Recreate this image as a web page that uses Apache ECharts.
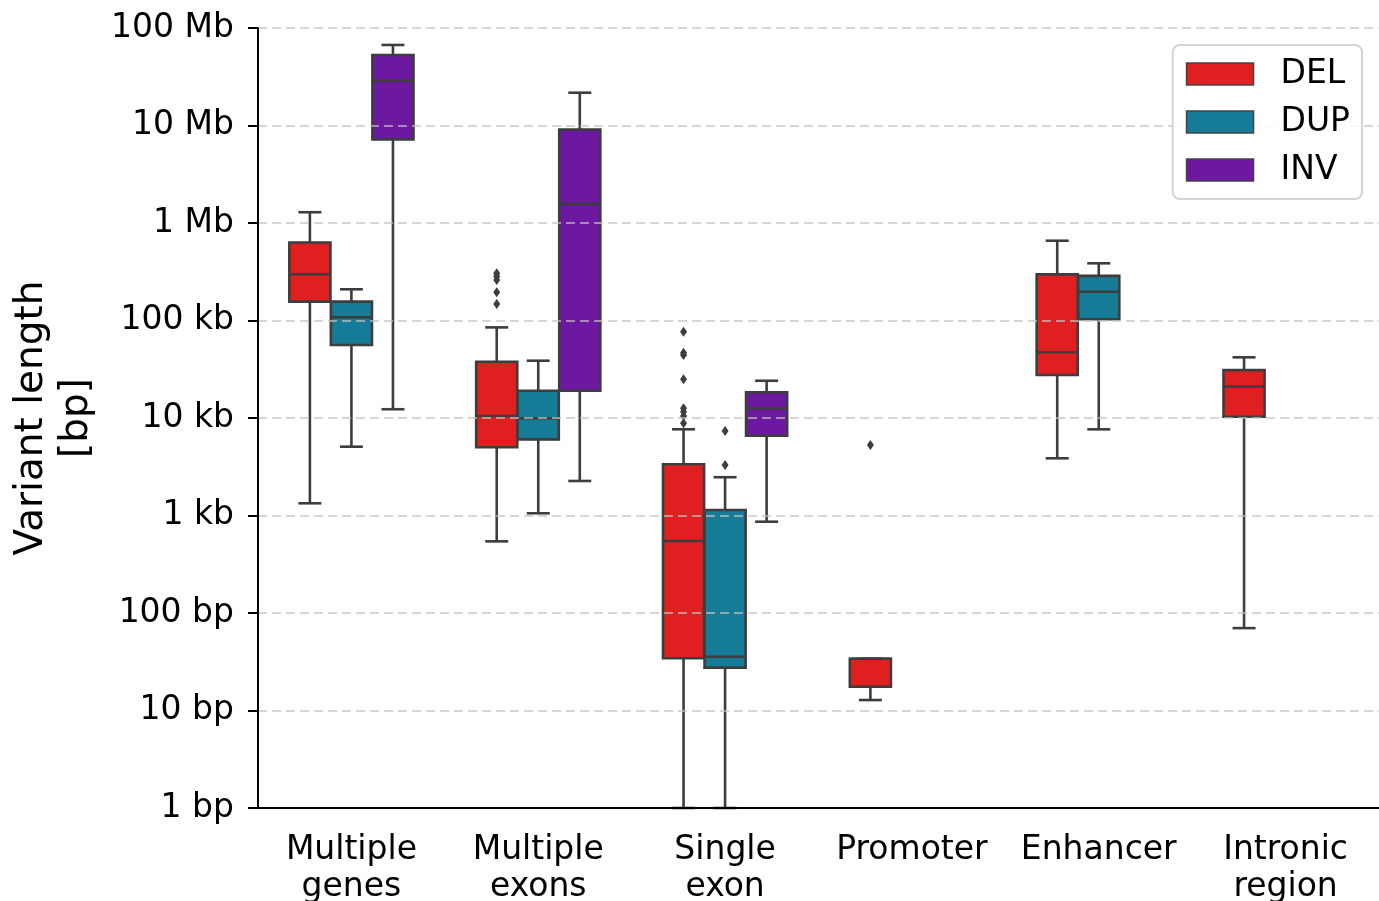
<!DOCTYPE html>
<html><head><meta charset="utf-8">
<script src="https://cdn.jsdelivr.net/npm/echarts@6/dist/echarts.min.js"></script>
<style>html,body{margin:0;padding:0;background:#fff}#c{width:1379px;height:901px}</style>
</head><body><div id="c"></div>
<script>
const categories = ['Multiple\ngenes', 'Multiple\nexons', 'Single\nexon', 'Promoter', 'Enhancer', 'Intronic\nregion'];
const seriesNames = ['DEL', 'DUP', 'INV'];
const yTickLabels = ['1 bp', '10 bp', '100 bp', '1 kb', '10 kb', '100 kb', '1 Mb', '10 Mb', '100 Mb'];

// [min, q1, median, q3, max] per category (null = no data)
const delStats = [
  [1334, 156000, 298000, 630000, 1290000],
  [543, 5010, 10500, 37800, 85000],
  [1, 34.3, 547, 3350, 7660],
  [12.8, 17.5, 34, 34, 34],
  [3860, 27600, 47200, 297000, 658000],
  [70, 10300, 21000, 31000, 41900]
];
const dupStats = [
  [5080, 56000, 108000, 156000, 209000],
  [1054, 6030, 9930, 19000, 38700],
  [1, 27.5, 35.6, 1138, 2470],
  null,
  [7650, 103000, 197000, 287000, 386000],
  null
];
const invStats = [
  [12300, 7200000, 28800000, 52800000, 67000000],
  [2260, 19000, 1570000, 9100000, 21700000],
  [864, 6580, 12600, 18400, 24100],
  null, null, null
];
const delOutliers = [
  [],
  [305000, 285000, 260000, 195000, 148000],
  [76800, 46800, 44300, 25000, 12600, 11600, 10500, 8830],
  [5290],
  [],
  []
];
const dupOutliers = [[], [], [7360, 3300], [], [], []];
const invOutliers = [[], [], [], [], [], []];

const COLORS = ['#e02020', '#157b96', '#6c18a0'];
const LINE = '#3d3d3d';
const SLOT_FRAC = 0.2223, BOX_FRAC = 0.22, CAP_FRAC = 0.123;
const FONT = 'DejaVu Sans';

function makeBoxSeries(name, stats, color, slot) {
  const data = [];
  stats.forEach((s, i) => { if (s) data.push([i].concat(s)); });
  return {
    name: name, type: 'custom', z: 2,
    itemStyle: { color: color },
    encode: { x: 0, y: [1, 2, 3, 4, 5] },
    data: data,
    renderItem: function (params, api) {
      const cat = api.value(0);
      const band = api.size([1, 1], [cat, api.value(3)])[0];
      const cx = api.coord([cat, api.value(3)])[0] + slot * band * SLOT_FRAC;
      const y = k => api.coord([cat, api.value(k)])[1];
      const yMin = y(1), yQ1 = y(2), yMed = y(3), yQ3 = y(4), yMax = y(5);
      const w = band * BOX_FRAC, cw = band * CAP_FRAC;
      const ls = { stroke: LINE, lineWidth: 2.6 };
      return {
        type: 'group', children: [
          { type: 'line', shape: { x1: cx, y1: yQ1, x2: cx, y2: yMin }, style: ls },
          { type: 'line', shape: { x1: cx, y1: yQ3, x2: cx, y2: yMax }, style: ls },
          { type: 'line', shape: { x1: cx - cw / 2, y1: yMin, x2: cx + cw / 2, y2: yMin }, style: ls },
          { type: 'line', shape: { x1: cx - cw / 2, y1: yMax, x2: cx + cw / 2, y2: yMax }, style: ls },
          { type: 'rect', shape: { x: cx - w / 2, y: yQ3, width: w, height: yQ1 - yQ3 }, style: { fill: color, stroke: LINE, lineWidth: 2.6 } },
          { type: 'line', shape: { x1: cx - w / 2, y1: yMed, x2: cx + w / 2, y2: yMed }, style: ls }
        ]
      };
    }
  };
}

function makeOutlierSeries(name, outs, slot) {
  const data = [];
  outs.forEach((arr, i) => arr.forEach(v => data.push([i, v])));
  return {
    name: name + ' outliers', type: 'custom', z: 3,
    encode: { x: 0, y: 1 },
    data: data,
    renderItem: function (params, api) {
      const cat = api.value(0), v = api.value(1);
      const band = api.size([1, 1], [cat, v])[0];
      const p = api.coord([cat, v]);
      const x = p[0] + slot * band * SLOT_FRAC, yy = p[1];
      return {
        type: 'polygon',
        shape: { points: [[x, yy - 5], [x + 3.5, yy], [x, yy + 5], [x - 3.5, yy]] },
        style: { fill: LINE }
      };
    }
  };
}

const chart = echarts.init(document.getElementById('c'), null, { renderer: 'canvas' });
chart.setOption({
  backgroundColor: '#fff',
  animation: false,
  textStyle: { fontFamily: FONT },
  grid: { left: 258, right: 0, top: 28, bottom: 93, containLabel: false, outerBoundsMode: 'none' },
  xAxis: {
    type: 'category', data: categories, boundaryGap: true, z: 6,
    axisLine: { lineStyle: { color: '#000', width: 2 } },
    axisTick: { alignWithLabel: true, length: 10, lineStyle: { color: '#000', width: 2 } },
    axisLabel: { interval: 0, color: '#000', fontSize: 33, lineHeight: 37, margin: 24, fontFamily: FONT },
    splitLine: { show: false }
  },
  yAxis: {
    type: 'log', logBase: 10, min: 1, max: 1e8, z: 5,
    axisLine: { show: true, lineStyle: { color: '#000', width: 2 } },
    axisTick: { show: true, length: 10, lineStyle: { color: '#000', width: 2 } },
    axisLabel: {
      color: '#000', fontSize: 33, margin: 24, fontFamily: FONT, padding: [10, 0, 0, 0],
      formatter: v => yTickLabels[Math.round(Math.log10(v))]
    },
    splitLine: { show: true, lineStyle: { color: 'rgba(195,195,195,0.9)', width: 1.6, type: [9, 5] } },
    minorTick: { show: false }
  },
  legend: {
    right: 17, top: 45, orient: 'vertical', z: 8,
    data: seriesNames.map((n, i) => ({ name: n, icon: 'rect', itemStyle: { color: COLORS[i], borderColor: '#444', borderWidth: 1.5 } })),
    itemWidth: 67, itemHeight: 22, itemGap: 14,
    padding: [12, 12, 12, 13],
    backgroundColor: 'rgba(255,255,255,0.85)',
    borderColor: '#d4d4d4', borderWidth: 2, borderRadius: 7,
    textStyle: { color: '#000', fontSize: 33, lineHeight: 34, fontFamily: FONT, padding: [0, 0, 0, 22] }
  },
  graphic: [{
    type: 'text', x: 54, y: 418, rotation: Math.PI / 2,
    style: { text: 'Variant length\n[bp]', font: '39px "DejaVu Sans"', align: 'center', verticalAlign: 'middle', lineHeight: 45, fill: '#000' }
  }],
  series: [
    makeBoxSeries('DEL', delStats, COLORS[0], -1),
    makeBoxSeries('DUP', dupStats, COLORS[1], 0),
    makeBoxSeries('INV', invStats, COLORS[2], 1),
    makeOutlierSeries('DEL', delOutliers, -1),
    makeOutlierSeries('DUP', dupOutliers, 0),
    makeOutlierSeries('INV', invOutliers, 1)
  ]
});
</script></body></html>
